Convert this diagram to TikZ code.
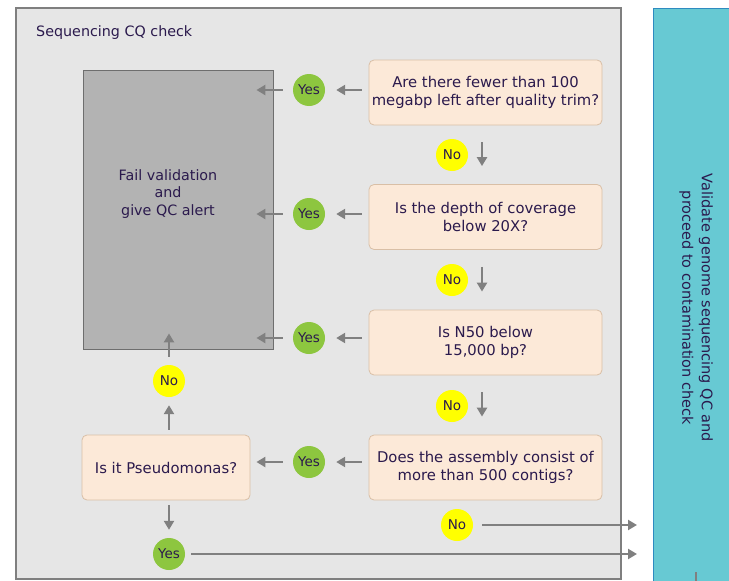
\documentclass[tikz,border=0pt]{standalone}
\usepackage{fontspec}
\setmainfont{DejaVu Sans}
\usetikzlibrary{arrows.meta,positioning}

\definecolor{framefill}{HTML}{E6E6E6}
\definecolor{frameline}{HTML}{7F7F7F}
\definecolor{failfill}{HTML}{B3B3B3}
\definecolor{failline}{HTML}{6E6E6E}
\definecolor{qfill}{HTML}{FCE9D8}
\definecolor{qline}{HTML}{D9BFA6}
\definecolor{yesgreen}{HTML}{8DC63F}
\definecolor{noyellow}{HTML}{FFFF00}
\definecolor{tealfill}{HTML}{67C9D3}
\definecolor{tealline}{HTML}{2E8BC0}
\definecolor{arrowgray}{HTML}{808080}
\definecolor{ink}{HTML}{2B1A4D}

\tikzset{
  question/.style={draw=qline, fill=qfill, line width=0.8pt, rounded corners=5pt,
    minimum width=233pt, minimum height=65pt, align=center, text=ink,
    font=\fontsize{14.8}{18}\selectfont, inner sep=0pt},
  yesdot/.style={circle, fill=yesgreen, minimum size=32pt, inner sep=0pt,
    text=ink, font=\fontsize{13.5}{13.5}\selectfont},
  nodot/.style={circle, fill=noyellow, minimum size=32pt, inner sep=0pt,
    text=ink, font=\fontsize{13.5}{13.5}\selectfont},
  flow/.style={draw=arrowgray, line width=2.6pt,
    -{Triangle[length=9pt,width=10pt]}},
}

\begin{document}
\begin{tikzpicture}[x=1pt,y=-1pt]
\useasboundingbox (0,0) rectangle (729,581);
\clip (0,0) rectangle (729,581);

% outer panel of the check
\node[draw=frameline, fill=framefill, line width=2pt, minimum width=605pt,
  minimum height=571pt, inner sep=0pt] (panel) at (318.5,293.5) {};
\node[anchor=west, text=ink, font=\fontsize{14.3}{16}\selectfont, inner sep=0pt]
  (title) at (36,32.5) {Sequencing CQ check};

% destination panel at the right edge
\node[draw=tealline, fill=tealfill, line width=1pt, minimum width=100pt,
  minimum height=590pt, inner sep=0pt, anchor=north west] (dest) at (653,8) {};
\node[rotate=-90, align=center, text=ink, font=\fontsize{14.5}{19.5}\selectfont]
  (desttext) at (696,308) {Validate genome sequencing QC and\\proceed to contamination check};
\coordinate (tick) at (696,572);
\draw[arrowgray, line width=1.5pt] (tick) -- ++(0,12);

% failure box
\node[draw=failline, fill=failfill, line width=0.8pt, minimum width=190pt,
  minimum height=279pt, inner sep=0pt] (fail) at (178,209.5) {};
\node[align=center, text=ink, font=\fontsize{14.3}{17.5}\selectfont]
  (failtext) at (168,194) {Fail validation\\and\\give QC alert};

% questions
\node[question] (q1) at (485.5,92.5) {Are there fewer than 100\\megabp left after quality trim?};
\node[question] (q2) at (485.5,217) {Is the depth of coverage\\below 20X?};
\node[question] (q3) at (485.5,342.5) {Is N50 below\\15,000 bp?};
\node[question] (q4) at (485.5,467.5) {Does the assembly consist of\\more than 500 contigs?};
\node[question, minimum width=168pt] (pseudo) at (166,467.5) {Is it Pseudomonas?};

% answers
\node[yesdot] (y1) at (309,90) {Yes};
\node[yesdot] (y2) at (309,214) {Yes};
\node[yesdot] (y3) at (309,338) {Yes};
\node[yesdot] (y4) at (309,462) {Yes};
\node[yesdot] (yp) at (169,554) {Yes};
\node[nodot] (n1) at (452,155) {No};
\node[nodot] (n2) at (452,280) {No};
\node[nodot] (n3) at (452,406) {No};
\node[nodot] (np) at (169,381) {No};
\node[nodot] (nc) at (457,525) {No};

% yes branches to the left
\foreach \q/\y in {q1/y1,q2/y2,q3/y3,q4/y4}{
  \draw[flow, shorten <=7pt, shorten >=11pt] (\q.west |- \y.east) -- (\y.east);
}
\foreach \y in {y1,y2,y3}{
  \draw[flow, shorten <=10pt, shorten >=-17pt] (\y.west) -- (fail.east |- \y.west);
}
\draw[flow, shorten <=10pt, shorten >=6pt] (y4.west) -- (pseudo.east |- y4.west);

% no branches downwards
\coordinate (d1) at (482,0);
\draw[flow, shorten <=17pt, shorten >=18pt] (q1.south -| d1) -- (q2.north -| d1);
\draw[flow, shorten <=17pt, shorten >=18pt] (q2.south -| d1) -- (q3.north -| d1);
\draw[flow, shorten <=17pt, shorten >=18pt] (q3.south -| d1) -- (q4.north -| d1);

% Pseudomonas check
\draw[flow, shorten <=5pt, shorten >=8pt] (pseudo.north -| np) -- (np.south);
\draw[flow, shorten <=8pt, shorten >=-16pt] (np.north) -- (fail.south -| np);
\draw[flow, shorten <=5pt, shorten >=8pt] (pseudo.south -| yp) -- (yp.north);

% onward to the destination
\draw[flow, shorten <=6pt, shorten >=16pt] (yp.east) -- (dest.west |- yp.east);
\draw[flow, shorten <=9pt, shorten >=16pt] (nc.east) -- (dest.west |- nc.east);
\end{tikzpicture}
\end{document}
